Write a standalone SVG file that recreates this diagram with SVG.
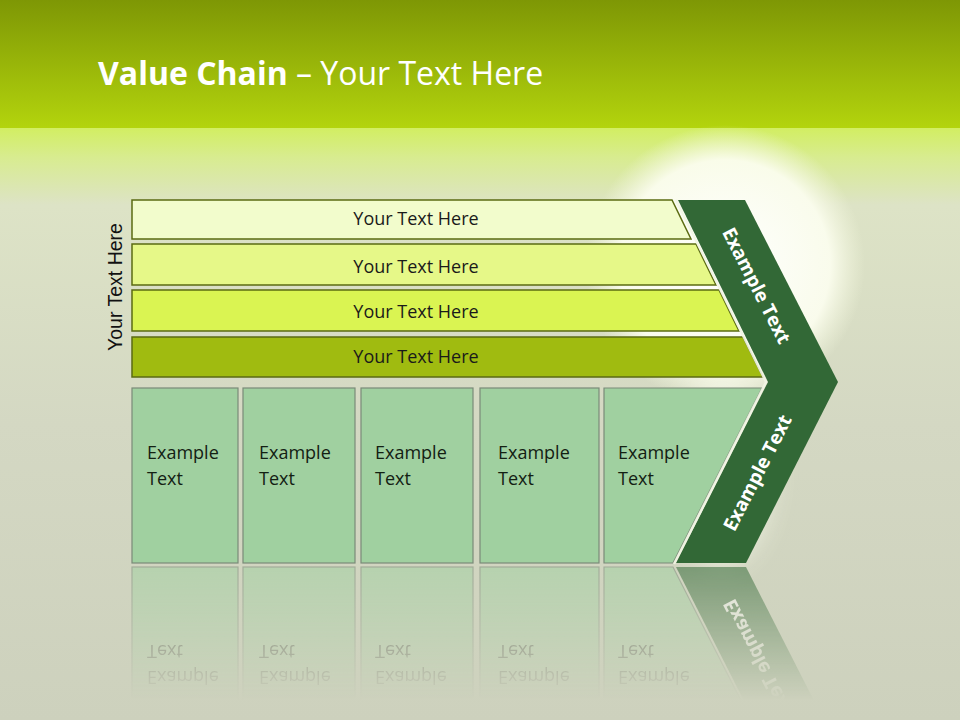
<svg xmlns="http://www.w3.org/2000/svg" xmlns:xlink="http://www.w3.org/1999/xlink" width="960" height="720" viewBox="0 0 960 720">
<defs>
<linearGradient id="hdr" x1="0" y1="0" x2="0" y2="1">
<stop offset="0" stop-color="#7e9705"/>
<stop offset="1" stop-color="#b3d40d"/>
</linearGradient>
<linearGradient id="bg" x1="0" y1="128" x2="0" y2="720" gradientUnits="userSpaceOnUse">
<stop offset="0" stop-color="#d2ee62"/>
<stop offset="0.05" stop-color="#d8ec90"/>
<stop offset="0.13" stop-color="#dde3c6"/>
<stop offset="0.5" stop-color="#d4d8c3"/>
<stop offset="1" stop-color="#cdd1bd"/>
</linearGradient>
<radialGradient id="glow" cx="725" cy="265" r="140" gradientUnits="userSpaceOnUse">
<stop offset="0" stop-color="#ffffff" stop-opacity="1"/>
<stop offset="0.75" stop-color="#fbfdee" stop-opacity="0.95"/>
<stop offset="1" stop-color="#f4f8de" stop-opacity="0"/>
</radialGradient>
<filter id="blur" x="-50%" y="-50%" width="200%" height="200%"><feGaussianBlur stdDeviation="12"/></filter>
<linearGradient id="fade" x1="0" y1="565" x2="0" y2="700" gradientUnits="userSpaceOnUse">
<stop offset="0" stop-color="#fff" stop-opacity="0.55"/>
<stop offset="1" stop-color="#fff" stop-opacity="0"/>
</linearGradient>
<mask id="refmask" maskUnits="userSpaceOnUse" x="0" y="560" width="960" height="160">
<rect x="0" y="560" width="960" height="160" fill="url(#fade)"/>
</mask>
<style>
.bar{stroke:#5b6b12;stroke-width:1.5}
.box{fill:#a0d0a0;stroke:#7a8a78;stroke-width:1.2}
.bt{font-family:"Open Sans","Liberation Sans",sans-serif;font-size:18px;fill:#1a1a1a;text-anchor:middle}
.xt{font-family:"Open Sans","Liberation Sans",sans-serif;font-size:18px;fill:#132013}
.ct{font-family:"Open Sans","Liberation Sans",sans-serif;font-size:19px;font-weight:bold;fill:#ffffff;text-anchor:middle}
</style>
</defs>
<rect x="0" y="0" width="960" height="720" fill="url(#bg)"/>
<rect x="0" y="0" width="960" height="128" fill="url(#hdr)"/>
<ellipse cx="725" cy="265" rx="140" ry="140" fill="url(#glow)"/>
<ellipse cx="722" cy="470" rx="50" ry="95" fill="#f4f6e6" opacity="0.8" filter="url(#blur)"/>
<text x="98" y="85" font-family="Open Sans, Liberation Sans, sans-serif" font-size="32" fill="#ffffff"><tspan font-weight="bold">Value Chain</tspan> – Your Text Here</text>
<text transform="translate(122,287) rotate(-90)" font-family="Liberation Sans, Arial, sans-serif" font-size="19.5" fill="#111" text-anchor="middle">Your Text Here</text>

<g id="bar1"><polygon class="bar" points="132,200 672,200 691,239 132,239" fill="#f2fccc"/><text class="bt" x="416" y="225">Your Text Here</text></g>
<g id="bar2"><polygon class="bar" points="132,244 696,244 716,285 132,285" fill="#e6f888"/><text class="bt" x="416" y="273">Your Text Here</text></g>
<g id="bar3"><polygon class="bar" points="132,290 719,290 739,331 132,331" fill="#daf452"/><text class="bt" x="416" y="318">Your Text Here</text></g>
<g id="bar4"><polygon class="bar" points="132,337 743,337 763,377 132,377" fill="#a0bb10"/><text class="bt" x="416" y="363">Your Text Here</text></g>

<g id="boxes">
<g id="box1"><rect class="box" x="132" y="388" width="106" height="175"/><text class="xt" x="147" y="459">Example</text><text class="xt" x="147" y="485">Text</text></g>
<g id="box2"><rect class="box" x="243" y="388" width="112" height="175"/><text class="xt" x="259" y="459">Example</text><text class="xt" x="259" y="485">Text</text></g>
<g id="box3"><rect class="box" x="361" y="388" width="112" height="175"/><text class="xt" x="375" y="459">Example</text><text class="xt" x="375" y="485">Text</text></g>
<g id="box4"><rect class="box" x="480" y="388" width="119" height="175"/><text class="xt" x="498" y="459">Example</text><text class="xt" x="498" y="485">Text</text></g>
<g id="box5"><polygon class="box" points="604,388 762,388 673,563 604,563"/><text class="xt" x="618" y="459">Example</text><text class="xt" x="618" y="485">Text</text></g>
<g id="lowerArm"><polygon points="768,382 838,382 746,563 676,563" fill="#326836"/><text class="ct" transform="translate(758,473) rotate(-63)" dy="6">Example Text</text></g>
</g>

<g id="chevron">
<polygon points="678,200 745,200 838,382 768,382" fill="#326836"/>
<polyline points="676,200 766,382 674,564" fill="none" stroke="#f2f5e4" stroke-width="2.5" opacity="0.9"/>
<text class="ct" transform="translate(756,286) rotate(63)" dy="6">Example Text</text>
</g>

<g id="reflection" mask="url(#refmask)">
<use xlink:href="#boxes" transform="translate(0,1130) scale(1,-1)"/>
</g>
<g id="connectors"></g>
</svg>
